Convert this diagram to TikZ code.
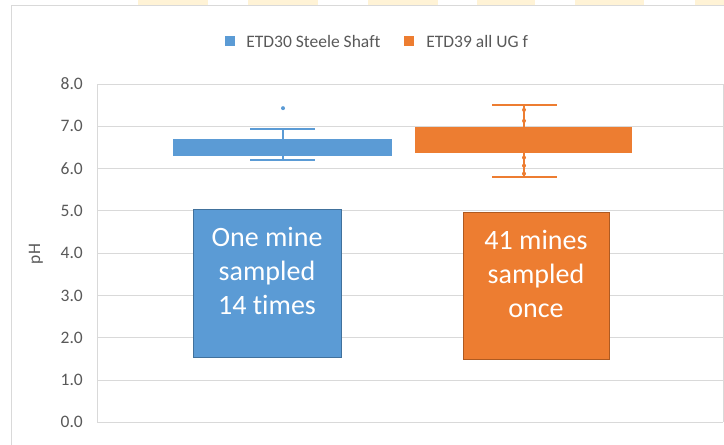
\documentclass[tikz,border=0pt]{standalone}
\usepackage{fontspec}
\setmainfont{Carlito}[Ligatures=NoCommon]
\usetikzlibrary{positioning}

\definecolor{boxblue}{HTML}{5B9BD5}
\definecolor{boxorange}{HTML}{ED7D31}
\definecolor{edgeblue}{HTML}{41719C}
\definecolor{edgeorange}{HTML}{AE5A21}
\definecolor{gridgray}{HTML}{D9D9D9}
\definecolor{labelgray}{HTML}{595959}
\definecolor{slidecream}{HTML}{FFF3D6}

\begin{document}
\begin{tikzpicture}[x=1pt,y=-1pt,
    ticklabel/.style={text=labelgray, font=\fontsize{17.5}{20}\selectfont, inner sep=0pt},
    keybox/.style={minimum width=10pt, minimum height=10pt, inner sep=0pt},
    notebox/.style={minimum width=148pt, minimum height=148pt, inner sep=0pt, line width=0.8pt},
    notetext/.style={text=white, align=center, inner sep=0pt,
        font=\fontsize{28}{34}\selectfont}]
    \useasboundingbox (0,0) rectangle (724,445);

    % bits of the slide behind the chart
    \foreach \a/\b in {138/208,248/318,368/438,477/535,575/644,695/724}
        \fill[slidecream] (\a,0) rectangle (\b,5);
    \fill[white] (11,5) rectangle (724,445);
    \draw[gridgray] (11,445) |- (724,5);

    % legend
    \node[keybox, fill=boxblue] (key30) at (230,41) {};
    \node[ticklabel, anchor=west, right=11pt of key30] (lab30) {ETD30 Steele Shaft};
    \node[keybox, fill=boxorange] (key39) at (409,41) {};
    \node[ticklabel, anchor=west, right=12pt of key39] (lab39) {ETD39 all UG f};

    % pH axis
    \node[ticklabel, rotate=90] (ylab) at (36,254) {pH};

    \begin{scope}[shift={(0,422.3)}, y=42.28pt]
        \foreach \v in {0,...,8} {
            \draw[gridgray, line width=1pt] (97,\v) -- (723,\v);
            \node[ticklabel, anchor=east] (tick\v) at (83,\v) {\v.0};
        }
        \draw[gridgray, line width=1pt] (97,0) -- (97,8);
        \draw[gridgray, line width=1pt] (723,0) -- (723,8);

        % ETD30
        \begin{scope}[boxblue, line width=2pt]
            \fill (173,6.30) rectangle (392,6.70);
            \draw (283,6.20) -- (283,6.94);
            \draw (250,6.94) -- (315,6.94);
            \draw (250,6.20) -- (315,6.20);
            \fill (283,7.43) circle (2pt);
        \end{scope}

        % ETD39
        \begin{scope}[boxorange, line width=2.5pt]
            \fill (415,6.37) rectangle (632,6.98);
            \draw (524,5.80) -- (524,7.50);
            \draw (492,7.50) -- (557,7.50);
            \draw (492,5.80) -- (557,5.80);
            \foreach \p in {7.39,7.13,6.26,6.07,5.88}
                \fill (524,\p) circle (2pt);
        \end{scope}
    \end{scope}

    % call-outs
    \node[notebox, fill=boxblue, draw=edgeblue] (bluenote) at (267,283) {};
    \node[notetext, anchor=north] (bluetext) at ([yshift=-18pt]bluenote.north)
        {One mine\\sampled\\14 times};
    \node[notebox, fill=boxorange, draw=edgeorange, minimum width=146pt,
        minimum height=147pt] (orangenote) at (536,285.5) {};
    \node[notetext, anchor=north] (orangetext) at ([yshift=-18pt]orangenote.north)
        {41 mines\\sampled\\once};
\end{tikzpicture}
\end{document}
